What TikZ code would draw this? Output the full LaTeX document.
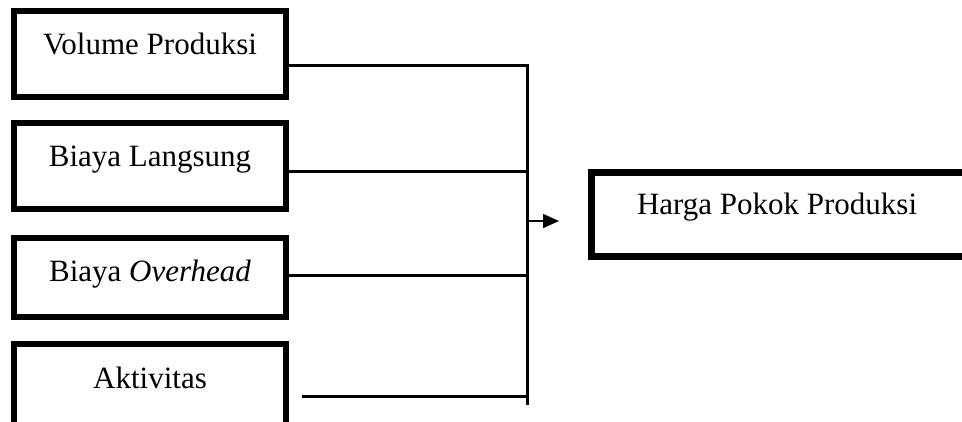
\documentclass[tikz,border=0pt]{standalone}
\usepackage{fontspec}
\setmainfont{Liberation Serif}
\usetikzlibrary{positioning,arrows.meta}
\begin{document}
\begin{tikzpicture}[x=1pt, y=-1pt, main/.style = {draw, line width=5.5pt, minimum width=272pt, inner sep=0pt, text height=44pt, text depth=42pt, font=\fontsize{31}{36}\selectfont}, conn/.style = {line width=3pt}]
            \useasboundingbox[fill=white] (0,0) rectangle (962,421);
            \node[main] (1) at (150,53.75) {Volume Produksi};
            \node[main] (2) [below=20.5pt of 1] {Biaya Langsung};
            \node[main, text depth=35pt] (3) [below=23.5pt of 2] {Biaya \textit{Overhead}};
            \node[main, text depth=60pt] (4) [below=21.75pt of 3] {Aktivitas};
            \node[main, line width=7pt, text width=293pt, align=flush left, inner xsep=45.5pt, text height=41.5pt, text depth=42.5pt] (5) at (783.5,214.5) {Harga Pokok Produksi};
            \coordinate (j1) at (527,65);
            \coordinate (j2) at (527,171);
            \coordinate (j3) at (527,275);
            \coordinate (j4) at (527,396);
            \coordinate (jm) at (527,221);
            \coordinate (bot) at (527,403.5);
            \draw[conn] (1.east |- j1) -- (j1);
            \draw[conn] (2.east |- j2) -- (j2);
            \draw[conn] (3.east |- j3) -- (j3);
            \draw[conn, shorten <=13pt] (4.east |- j4) -- (j4);
            \draw[conn, line cap=rect] (j1) -- (bot);
            \draw[line width=1.5pt, -{Triangle[length=16pt, width=14pt]}, shorten >=29pt] (jm) -- (jm -| 5.west);
        \end{tikzpicture}
\end{document}
